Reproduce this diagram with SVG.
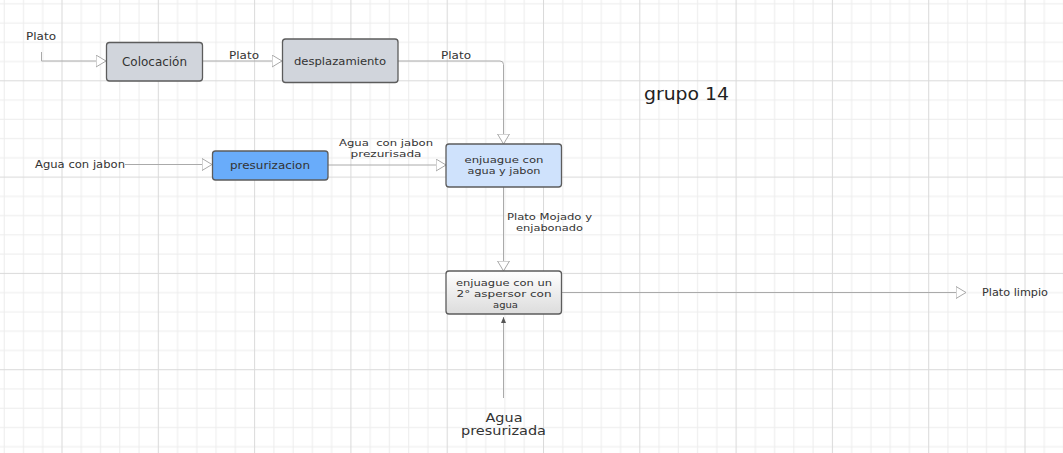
<svg xmlns="http://www.w3.org/2000/svg" width="1063" height="453" viewBox="0 0 1063 453">
<defs>
<pattern id="grid" patternUnits="userSpaceOnUse" x="61.5" y="80.3" width="96.3" height="96.3">
<rect width="96.3" height="96.3" fill="#ffffff"/>
<g fill="#ededed">
<rect x="19.26" y="0" width="1" height="96.3"/><rect x="38.52" y="0" width="1" height="96.3"/><rect x="57.78" y="0" width="1" height="96.3"/><rect x="77.04" y="0" width="1" height="96.3"/>
<rect x="0" y="19.26" width="96.3" height="1"/><rect x="0" y="38.52" width="96.3" height="1"/><rect x="0" y="57.78" width="96.3" height="1"/><rect x="0" y="77.04" width="96.3" height="1"/>
</g>
<g fill="#dadada"><rect x="0" y="0" width="1" height="96.3"/><rect x="0" y="0" width="96.3" height="1"/></g>
</pattern>
<linearGradient id="g2" x1="0" y1="0" x2="0" y2="1"><stop offset="0" stop-color="#ffffff"/><stop offset="1" stop-color="#dcdcdc"/></linearGradient>
<marker id="open" viewBox="0 0 11 13" refX="10.5" refY="6.5" markerWidth="11" markerHeight="13" markerUnits="userSpaceOnUse" orient="auto">
<path d="M0.5,0.5 L10.5,6.5 L0.5,12.5 Z" fill="#ffffff" stroke="#a8a8a8" stroke-width="1"/>
</marker>
<marker id="solid" viewBox="0 0 6 5" refX="6" refY="2.5" markerWidth="6" markerHeight="5" markerUnits="userSpaceOnUse" orient="auto">
<path d="M0,0 L6,2.5 L0,5 Z" fill="#555555"/>
</marker>
</defs>
<style>
.n{stroke:#5c5c5c;stroke-width:1.3}
.t{font-family:"DejaVu Sans","Liberation Sans",sans-serif;font-size:11px;fill:#333333;text-anchor:middle}
.s{font-size:9.5px}
.c{fill:none;stroke:#aaaaaa;stroke-width:1}
</style>
<rect width="1063" height="453" fill="url(#grid)"/>

<g id="connectors">
<path class="c" d="M41.5,52 V61 H106" marker-end="url(#open)"/>
<path class="c" d="M203,61 H282" marker-end="url(#open)"/>
<path class="c" d="M398,61 H500 Q503.5,61 503.5,64.5 V144" marker-end="url(#open)"/>
<path class="c" d="M125,164.5 H212" marker-end="url(#open)"/>
<path class="c" d="M328,165 H446" marker-end="url(#open)"/>
<path class="c" d="M503.5,187 V271" marker-end="url(#open)"/>
<path class="c" d="M562,292.5 H966" marker-end="url(#open)"/>
<path class="c" d="M503.5,398 V317" marker-end="url(#solid)"/>
<text class="t" x="41" y="39.5" textLength="30" lengthAdjust="spacingAndGlyphs">Plato</text>
<text class="t" x="244" y="58.5" textLength="30" lengthAdjust="spacingAndGlyphs">Plato</text>
<text class="t" x="456" y="58.5" textLength="30" lengthAdjust="spacingAndGlyphs">Plato</text>
<text class="t" x="80" y="167.5" textLength="90" lengthAdjust="spacingAndGlyphs">Agua con jabon</text>
<text class="t s" x="386" y="145.5" textLength="94" lengthAdjust="spacingAndGlyphs" xml:space="preserve">Agua  con jabon</text>
<text class="t s" x="386" y="156.5" textLength="71" lengthAdjust="spacingAndGlyphs">prezurisada</text>
<text class="t s" x="549.5" y="220" textLength="85" lengthAdjust="spacingAndGlyphs">Plato Mojado y</text>
<text class="t s" x="549.5" y="231" textLength="67" lengthAdjust="spacingAndGlyphs">enjabonado</text>
<text class="t" x="1015" y="296" textLength="66" lengthAdjust="spacingAndGlyphs">Plato limpio</text>
<text class="t" x="504" y="421.5" style="font-size:12.5px" textLength="37" lengthAdjust="spacingAndGlyphs">Agua</text>
<text class="t" x="503.5" y="435" style="font-size:12.5px" textLength="85" lengthAdjust="spacingAndGlyphs">presurizada</text>
</g>

<g id="colocacion">
<rect class="n" x="106.5" y="42.5" width="96" height="38.5" rx="3" fill="#d1d5dc"/>
<text class="t" x="154.5" y="65.5" style="font-size:12px" textLength="65" lengthAdjust="spacingAndGlyphs">Colocación</text>
</g>
<g id="desplazamiento">
<rect class="n" x="282.5" y="39" width="115.5" height="43.5" rx="3" fill="#d1d5dc"/>
<text class="t" x="340" y="65" textLength="92" lengthAdjust="spacingAndGlyphs">desplazamiento</text>
</g>
<g id="presurizacion">
<rect class="n" x="212.5" y="151" width="115.5" height="29" rx="3" fill="#69acfa"/>
<text class="t" x="270" y="168.5" textLength="80" lengthAdjust="spacingAndGlyphs">presurizacion</text>
</g>
<g id="enjuague1">
<rect class="n" x="446" y="144" width="115.5" height="43" rx="3" fill="#cfe2fc"/>
<text class="t s" x="504" y="162.5" textLength="79" lengthAdjust="spacingAndGlyphs">enjuague con</text>
<text class="t s" x="504" y="173.5" textLength="73" lengthAdjust="spacingAndGlyphs">agua y jabon</text>
</g>
<g id="enjuague2">
<rect class="n" x="446" y="271" width="115.5" height="43" rx="3" fill="url(#g2)"/>
<text class="t s" x="504" y="286" textLength="96" lengthAdjust="spacingAndGlyphs">enjuague con un</text>
<text class="t s" x="504" y="297" textLength="95" lengthAdjust="spacingAndGlyphs">2° aspersor con</text>
<text class="t s" x="505.5" y="308" textLength="25" lengthAdjust="spacingAndGlyphs">agua</text>
</g>
<g id="titulo">
<text x="686.5" y="99.5" style="font-family:'DejaVu Sans','Liberation Sans',sans-serif;font-size:17px;fill:#222222;text-anchor:middle" textLength="85" lengthAdjust="spacingAndGlyphs">grupo 14</text>
</g>
</svg>
